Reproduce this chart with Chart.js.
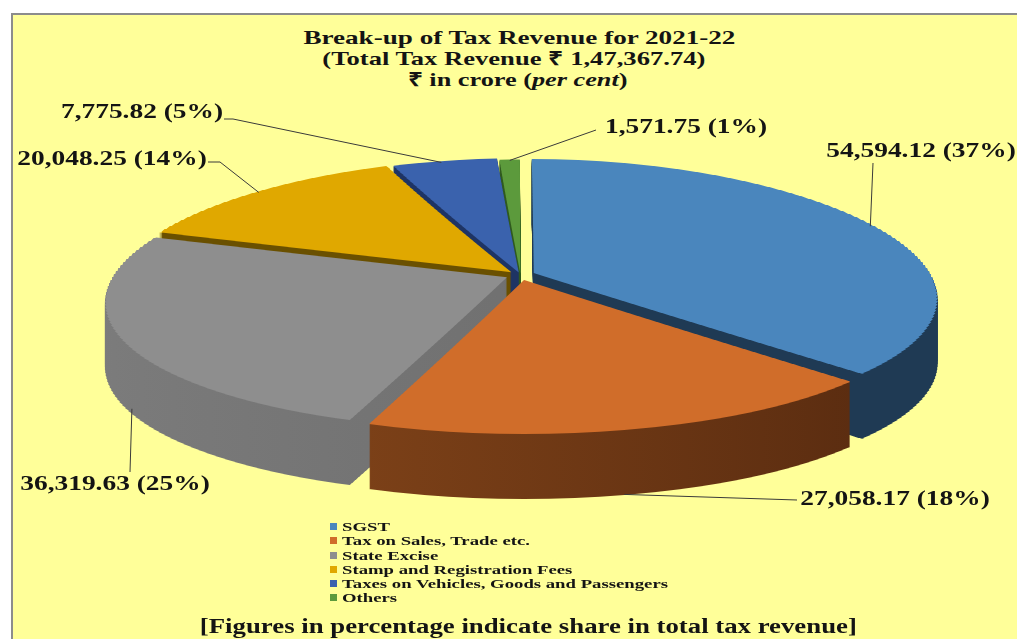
<!DOCTYPE html>
<html>
<head>
<meta charset="utf-8">
<script src="https://cdn.jsdelivr.net/npm/chart.js@4.4.1/dist/chart.umd.min.js"></script>
<style>
  body { margin:0; width:1017px; height:639px; overflow:hidden; position:relative; background:#fff;
         font-family:"Liberation Serif","Times New Roman",serif; color:#141414; }
  #box { position:absolute; left:11px; top:13px; width:1020px; height:640px; background:#ffff99;
         border-left:2px solid #8c8c8c; border-top:2px solid #8c8c8c; }
  #c { position:absolute; left:0; top:0; }
  .line { position:absolute; width:1000px; text-align:center; font-weight:bold; white-space:nowrap; }
  .line span { display:inline-block; }
  #legend { position:absolute; left:330px; top:520px; font-weight:bold; font-size:13px; }
  #legend div { height:14.3px; line-height:14.3px; white-space:nowrap; }
  #legend i { display:inline-block; width:7px; height:7px; margin-right:5px; vertical-align:1px; }
  #legend span { display:inline-block; transform-origin:0 50%; }
</style>
</head>
<body>
<div id="box"></div>
<div class="line" id="t1" style="left:19px;top:27px;font-size:19px;line-height:21px"><span>Break-up of Tax Revenue for 2021-22</span></div>
<div class="line" id="t2" style="left:14px;top:48px;font-size:19px;line-height:21px"><span>(Total Tax Revenue ₹ 1,47,367.74)</span></div>
<div class="line" id="t3" style="left:18px;top:69px;font-size:19px;line-height:21px"><span>₹ in crore (<i>per cent</i>)</span></div>
<canvas id="c" width="1017" height="639"></canvas>
<div id="legend"></div>
<div class="line" id="foot" style="left:28px;top:614px;font-size:20px;line-height:24px"><span>[Figures in percentage indicate share in total tax revenue]</span></div>
<script>
// data
var labels = ['SGST', 'Tax on Sales, Trade etc.', 'State Excise', 'Stamp and Registration Fees',
              'Taxes on Vehicles, Goods and Passengers', 'Others'];
var values = [54594.12, 27058.17, 36319.63, 20048.25, 7775.82, 1571.75];

// styles
var topColors  = ['#4a86bd', '#d06d2a', '#8e8e8e', '#e0a800', '#3a62ad', '#5c9a3c'];
var sideColors = [['#1f3a54', '#1f3a54'], ['#8f4c1c', '#55290f'], ['#7c7c7c', '#666666'],
                  ['#6a5000', '#6a5000'], ['#1e3464', '#1e3464'], ['#2f5a1e', '#2f5a1e']];
var explode    = [58, 60, 60, 50, 30, 16];

// perspective of the tilted pie: y = YC + KA*v + KQ*v*v/R, x scale = 1 + PX*v/R
var R = 393, YC = 275, KA = 0.338, KQ = 0.0487, PX = 0.19, DEPTH = 65, STRIP = 3;
var TEXT_SX = 1.37;
var labelX  = [921, 895, 115, 112, 142, 686];
var labelY  = [152, 500, 485, 160, 113, 128];
var leadT   = [0.51, 0.52, 0.457, 0.486, 0.46, 0.5];
var leadDy  = [0, 65, 60, 0, 0, 0];
var leadEnd = [[[873, 163]], [[797, 500]], [[130, 472]], [[220, 162], [208, 162]],
               [[233, 119], [224, 119]], [[596, 130]]];

var total = values.reduce(function(a, b) { return a + b; }, 0);

function fmt(v) {
  return v.toLocaleString('en-IN', {minimumFractionDigits: 2, maximumFractionDigits: 2});
}
function mapY(v) { return YC + KA * v + KQ * v * v / R; }
function invY(y) { var a = KQ / R; return (-KA + Math.sqrt(KA * KA - 4 * a * (YC - y))) / (2 * a); }
function mapS(v) { return 1 + PX * v / R; }

// horizontal strips, each drawn with its own affine squash
var strips = [];
(function() {
  var y0 = Math.floor(mapY(-R - 30)), y1 = Math.ceil(mapY(R + 30));
  for (var y = y0; y < y1; y += STRIP) {
    var v0 = invY(y), v1 = invY(y + STRIP);
    strips.push({y0: y, y1: y + STRIP, v0: v0, v1: v1, s: mapS((v0 + v1) / 2)});
  }
})();

var sideFills = null;
function getSideFills(ctx) {
  if (sideFills) return sideFills;
  sideFills = sideColors.map(function(c) {
    var g = ctx.createLinearGradient(120, 0, 900, 0);
    g.addColorStop(0, c[0]);
    g.addColorStop(1, c[1]);
    return g;
  });
  return sideFills;
}

function vRange(arc) {
  var off = (arc.options.offset || 0) / 4, mid = (arc.startAngle + arc.endAngle) / 2;
  var sh = off * Math.sin(mid), lo = sh, hi = sh, r = arc.outerRadius + off;
  for (var k = 0; k <= 40; k++) {
    var a = arc.startAngle + (arc.endAngle - arc.startAngle) * k / 40;
    lo = Math.min(lo, sh + r * Math.sin(a));
    hi = Math.max(hi, sh + r * Math.sin(a));
  }
  return [lo - 2, hi + 2];
}

function drawTilted(ctx, arc, d, vr) {
  var cx = arc.x, cy = arc.y;
  strips.forEach(function(st) {
    if (st.v1 < vr[0] || st.v0 > vr[1]) return;
    ctx.save();
    ctx.beginPath();
    ctx.rect(0, st.y0 + d, 1017, st.y1 - st.y0);
    ctx.clip();
    ctx.translate(cx, st.y0 + d);
    ctx.scale(st.s, (st.y1 - st.y0) / (st.v1 - st.v0));
    ctx.translate(-cx, -(cy + st.v0));
    arc.draw(ctx);
    ctx.restore();
  });
}

var pie3d = {
  id: 'pie3d',
  beforeDatasetsDraw: function(chart) {
    var ctx = chart.ctx;
    var arcs = chart.getDatasetMeta(0).data;
    var fills = getSideFills(ctx);
    var order = arcs.map(function(a, i) { return i; }).sort(function(a, b) {
      var ma = (arcs[a].startAngle + arcs[a].endAngle) / 2;
      var mb = (arcs[b].startAngle + arcs[b].endAngle) / 2;
      return Math.sin(ma) - Math.sin(mb);
    });
    // side walls, back slices first
    order.forEach(function(i) {
      var arc = arcs[i], vr = vRange(arc);
      var o = arc.options;
      arc.options = Object.assign({}, o, {backgroundColor: fills[i], borderColor: fills[i], borderWidth: 0});
      for (var d = DEPTH; d >= 1; d--) drawTilted(ctx, arc, d, vr);
      arc.options = o;
    });
    // top faces
    arcs.forEach(function(arc) { drawTilted(ctx, arc, 0, vRange(arc)); });
    return false;
  },
  afterDraw: function(chart) {
    var ctx = chart.ctx;
    var arcs = chart.getDatasetMeta(0).data;
    ctx.save();
    ctx.strokeStyle = '#3a3a3a';
    ctx.lineWidth = 1;
    ctx.fillStyle = '#141414';
    ctx.font = 'bold 20px "Liberation Serif", serif';
    ctx.textAlign = 'center';
    ctx.textBaseline = 'middle';
    arcs.forEach(function(arc, i) {
      var mid = (arc.startAngle + arc.endAngle) / 2;
      var off = (arc.options.offset || 0) / 4;
      var a = arc.startAngle + leadT[i] * (arc.endAngle - arc.startAngle);
      var u = off * Math.cos(mid) + arc.outerRadius * Math.cos(a);
      var v = off * Math.sin(mid) + arc.outerRadius * Math.sin(a);
      ctx.beginPath();
      ctx.moveTo(arc.x + u * mapS(v), mapY(v) + leadDy[i]);
      leadEnd[i].forEach(function(p) { ctx.lineTo(p[0], p[1]); });
      ctx.stroke();
      var txt = fmt(values[i]) + ' (' + Math.round(values[i] / total * 100) + '%)';
      ctx.save();
      ctx.translate(labelX[i], labelY[i]);
      ctx.scale(TEXT_SX, 1);
      ctx.fillText(txt, 0, 0);
      ctx.restore();
    });
    ctx.restore();
  }
};

new Chart(document.getElementById('c'), {
  type: 'pie',
  data: {
    labels: labels,
    datasets: [{
      data: values,
      backgroundColor: topColors,
      borderWidth: 0,
      offset: explode,
      radius: R,
      clip: false
    }]
  },
  options: {
    responsive: false,
    animation: false,
    events: [],
    layout: { padding: { left: 24 } },
    plugins: { legend: { display: false }, tooltip: { enabled: false } }
  },
  plugins: [pie3d]
});

// legend
var lg = document.getElementById('legend');
labels.forEach(function(l, i) {
  var row = document.createElement('div');
  row.innerHTML = '<i style="background:' + topColors[i] + '"></i><span>' + l + '</span>';
  lg.appendChild(row);
});
var spans = lg.querySelectorAll('span');
var widest = 0;
spans.forEach(function(s) { widest = Math.max(widest, s.getBoundingClientRect().width); });
spans.forEach(function(s) { s.style.transform = 'scaleX(' + (326 / widest) + ')'; });

// stretch the heading lines to the widths of the original
function fit(id, w) {
  var s = document.querySelector('#' + id + ' span');
  s.style.transform = 'scaleX(' + (w / s.getBoundingClientRect().width) + ')';
}
fit('t1', 432);
fit('t2', 383);
fit('t3', 220);
fit('foot', 657);
</script>
</body>
</html>
